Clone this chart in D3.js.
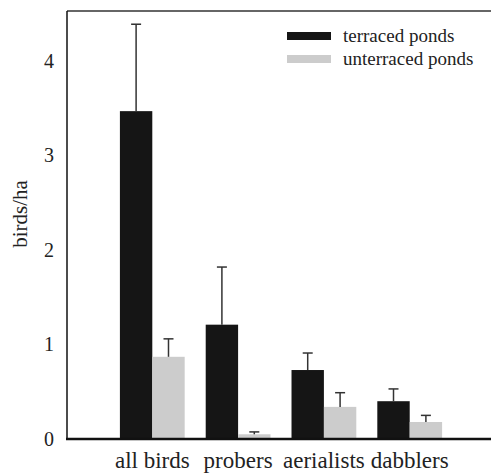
<!DOCTYPE html>
<html>
<head>
<meta charset="utf-8">
<script src="https://cdn.jsdelivr.net/npm/d3@7"></script>
</head>
<body style="margin:0; background:#fff">
<div id="chart"></div>
<script>
var width = 491;
var height = 475;

var categories = ['all birds', 'probers', 'aerialists', 'dabblers'];
var keys = ['terraced ponds', 'unterraced ponds'];
var terraced = [3.47, 1.21, 0.73, 0.40];
var terracedErr = [4.39, 1.82, 0.91, 0.53];
var unterraced = [0.87, 0.05, 0.34, 0.18];
var unterracedErr = [1.06, 0.075, 0.49, 0.25];
var yTicks = [0, 1, 2, 3, 4];

var colorArray = ['#151515', '#cccccc'];
var fontName = 'Liberation Serif';

// build rows for drawing
var rows = [];
categories.forEach((c, i) => {
    rows.push({ cat: c, key: keys[0], value: terraced[i], err: terracedErr[i] });
    rows.push({ cat: c, key: keys[1], value: unterraced[i], err: unterracedErr[i] });
});

var plotLeft = 67, plotRight = 491, plotTop = 11, plotBottom = 439;

var svg = d3.select('#chart')
    .append('svg')
    .attr('width', width)
    .attr('height', height)
    .attr('font-family', fontName);

var x = d3.scaleBand()
    .domain(categories)
    .range([71, plotRight])
    .paddingInner(0.245)
    .paddingOuter(0.57);

var xInner = d3.scaleBand()
    .domain(keys)
    .range([0, x.bandwidth()]);

var y = d3.scaleLinear()
    .domain([0, 4.53])
    .range([plotBottom, plotTop]);

// bars
svg.append('g')
    .selectAll('rect')
    .data(rows)
    .enter()
    .append('rect')
    .attr('x', (d) => x(d.cat) + xInner(d.key))
    .attr('y', (d) => y(d.value))
    .attr('width', xInner.bandwidth())
    .attr('height', (d) => y(0) - y(d.value))
    .attr('fill', (d) => colorArray[keys.indexOf(d.key)]);

// error bars
var cx = (d) => x(d.cat) + xInner(d.key) + xInner.bandwidth() / 2;
var eb = svg.append('g')
    .attr('stroke', '#333')
    .attr('stroke-width', 1.5)
    .selectAll('g')
    .data(rows)
    .enter()
    .append('g');

eb.append('line')
    .attr('x1', cx)
    .attr('x2', cx)
    .attr('y1', (d) => y(d.value))
    .attr('y2', (d) => y(d.err));

eb.append('line')
    .attr('x1', (d) => cx(d) - 5)
    .attr('x2', (d) => cx(d) + 5)
    .attr('y1', (d) => y(d.err))
    .attr('y2', (d) => y(d.err));

// frame: top border (grey), left and bottom axes
svg.append('line')
    .attr('x1', plotLeft).attr('x2', plotRight)
    .attr('y1', plotTop).attr('y2', plotTop)
    .attr('stroke', '#666').attr('stroke-width', 2);

svg.append('line')
    .attr('x1', plotLeft).attr('x2', plotLeft)
    .attr('y1', plotTop).attr('y2', plotBottom)
    .attr('stroke', '#111').attr('stroke-width', 1.5);

// y axis labels
var yAxis = d3.axisLeft(y)
    .tickValues(yTicks)
    .tickFormat(d3.format('d'))
    .tickSize(0)
    .tickPadding(13);
svg.append('g')
    .attr('transform', `translate(${plotLeft}, 0)`)
    .call(yAxis)
    .attr('font-family', fontName)
    .attr('font-size', 20)
    .call((g) => g.select('.domain').remove())
    .selectAll('text')
    .attr('font-family', fontName)
    .style('font-family', '"Liberation Serif"')
    .style('font-size', '20px')
    .attr('fill', '#222');

// x axis
var xAxis = d3.axisBottom(x).tickSize(0).tickPadding(13);
svg.append('g')
    .attr('transform', `translate(0, ${plotBottom})`)
    .call(xAxis)
    .attr('font-family', fontName)
    .attr('font-size', 23)
    .call((g) => g.select('.domain').remove())
    .selectAll('text')
    .attr('font-family', fontName)
    .style('font-family', '"Liberation Serif"')
    .style('font-size', '23px')
    .attr('fill', '#222');

svg.append('line')
    .attr('x1', plotLeft - 1).attr('x2', plotRight)
    .attr('y1', plotBottom).attr('y2', plotBottom)
    .attr('stroke', '#111').attr('stroke-width', 2.5);

// y title
svg.append('text')
    .attr('transform', 'translate(27, 214) rotate(-90)')
    .attr('text-anchor', 'middle')
    .attr('font-family', fontName)
    .style('font-family', '"Liberation Serif"')
    .style('font-size', '21px')
    .attr('fill', '#222')
    .text('birds/ha');

// legend
var legend = svg.append('g')
    .selectAll('g')
    .data(keys)
    .enter()
    .append('g')
    .attr('transform', (d, i) => `translate(287, ${32 + i * 23})`);

legend.append('rect')
    .attr('width', 44)
    .attr('height', 8)
    .attr('fill', (d, i) => colorArray[i]);

legend.append('text')
    .attr('x', 56)
    .attr('y', 10)
    .attr('font-family', fontName)
    .style('font-family', '"Liberation Serif"')
    .style('font-size', '19px')
    .attr('fill', '#222')
    .text((d) => d);
</script>
</body>
</html>
